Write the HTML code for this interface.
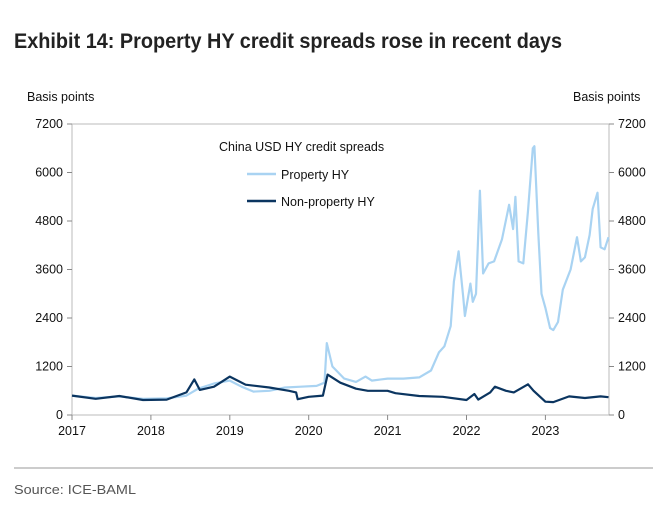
<!DOCTYPE html>
<html><head><meta charset="utf-8"><style>
body{margin:0;background:#fff}
svg{display:block;font-family:"Liberation Sans",sans-serif}
</style></head><body>
<svg width="667" height="513" viewBox="0 0 667 513">
<text x="14" y="48" font-size="21" font-weight="bold" fill="#222" textLength="548" lengthAdjust="spacingAndGlyphs" style="font-family:'Liberation Sans Narrow','Liberation Sans',sans-serif">Exhibit 14: Property HY credit spreads rose in recent days</text>
<text x="27" y="101" font-size="12.5" fill="#111">Basis points</text>
<text x="573" y="101" font-size="12.5" fill="#111">Basis points</text>
<g id="axes"></g>
<g id="series"></g>
<text x="219" y="151" font-size="12.5" fill="#111">China USD HY credit spreads</text>
<line x1="247" y1="174" x2="276" y2="174" stroke="#a9d3f2" stroke-width="2.5"/>
<text x="281" y="179" font-size="12.5" fill="#111">Property HY</text>
<line x1="247" y1="201" x2="276" y2="201" stroke="#0b3560" stroke-width="2.5"/>
<text x="281" y="206" font-size="12.5" fill="#111">Non-property HY</text>
<line x1="14" y1="468" x2="653" y2="468" stroke="#999" stroke-width="1"/>
<text x="14" y="494" font-size="13" fill="#555" textLength="122" lengthAdjust="spacingAndGlyphs" style="font-family:'Liberation Sans Narrow','Liberation Sans',sans-serif">Source: ICE-BAML</text>
</svg>
<script>
const yTicks=[0,1200,2400,3600,4800,6000,7200];
const xTicks=[2017,2018,2019,2020,2021,2022,2023];
const propT=[2017,2017.3,2017.6,2017.9,2018.2,2018.45,2018.6,2018.8,2019.0,2019.15,2019.3,2019.5,2019.7,2019.9,2020.1,2020.2,2020.23,2020.3,2020.45,2020.6,2020.72,2020.8,2021.0,2021.2,2021.4,2021.55,2021.65,2021.72,2021.8,2021.84,2021.9,2021.96,2021.98,2022.05,2022.08,2022.12,2022.17,2022.21,2022.28,2022.35,2022.45,2022.54,2022.59,2022.62,2022.66,2022.72,2022.78,2022.84,2022.86,2022.91,2022.95,2023.0,2023.06,2023.1,2023.16,2023.22,2023.32,2023.4,2023.45,2023.5,2023.56,2023.6,2023.66,2023.7,2023.75,2023.8];
const propV=[480,420,460,400,410,480,650,780,850,700,580,600,680,700,720,800,1780,1200,900,820,950,850,900,900,930,1100,1550,1700,2200,3300,4050,2900,2450,3250,2800,3000,5550,3500,3750,3800,4350,5200,4600,5400,3800,3750,5050,6600,6650,4500,3000,2650,2150,2100,2300,3100,3600,4400,3800,3900,4450,5100,5500,4150,4100,4400];
const nonT=[2017,2017.3,2017.6,2017.9,2018.2,2018.45,2018.55,2018.62,2018.8,2019.0,2019.2,2019.5,2019.75,2019.84,2019.86,2020.0,2020.18,2020.24,2020.4,2020.6,2020.75,2021.0,2021.1,2021.4,2021.7,2022.0,2022.1,2022.15,2022.3,2022.36,2022.5,2022.6,2022.78,2022.85,2023.0,2023.1,2023.3,2023.5,2023.7,2023.8];
const nonV=[480,400,470,370,380,560,880,620,700,950,750,680,600,560,390,450,480,1000,800,650,600,600,540,470,450,370,520,380,560,700,600,560,760,600,330,320,460,420,460,440];
const L=72,R=609,T=124,B=415,Y0=2017,YPX=78.9;
const sx=t=>L+(t-Y0)*YPX, sy=v=>B-(v/7200)*(B-T);
const NS="http://www.w3.org/2000/svg";
const ax=document.getElementById('axes'), se=document.getElementById('series');
function mk(tag,at,parent){const e=document.createElementNS(NS,tag);for(const k in at)e.setAttribute(k,at[k]);parent.appendChild(e);return e;}
let fr=mk('rect',{x:L,y:T,width:R-L,height:B-T,fill:'none',stroke:'#bbb','stroke-width':1},ax);


yTicks.forEach(v=>{
 const y=sy(v);
 let a=mk('line',{x1:L-5,y1:y,x2:L,y2:y,stroke:'#888'},ax);
 
 
 let b=mk('line',{x1:R,y1:y,x2:R+5,y2:y,stroke:'#888'},ax);
 
 
 let t1=mk('text',{x:L-9,y:y+4,'font-size':12.5,'text-anchor':'end',fill:'#111'},ax);t1.textContent=v;
 
 
 let t2=mk('text',{x:R+9,y:y+4,'font-size':12.5,fill:'#111'},ax);t2.textContent=v;
 
 
});
xTicks.forEach(yr=>{
 const x=sx(yr);
 let a=mk('line',{x1:x,y1:B,x2:x,y2:B+5,stroke:'#888'},ax);
 
 
 let t=mk('text',{x:x,y:B+20,'font-size':12.5,'text-anchor':'middle',fill:'#111'},ax);t.textContent=yr;
 
 
});
function line(ts,vs,c){return ts.map((t,i)=>(i?'L':'M')+sx(t).toFixed(1)+' '+sy(vs[i]).toFixed(1)).join(' ');}
let p1=mk('path',{d:line(propT,propV),fill:'none',stroke:'#a9d3f2','stroke-width':2.2,'stroke-linejoin':'round'},se);


let p2=mk('path',{d:line(nonT,nonV),fill:'none',stroke:'#0b3560','stroke-width':2.2,'stroke-linejoin':'round'},se);


</script>
</body></html>
